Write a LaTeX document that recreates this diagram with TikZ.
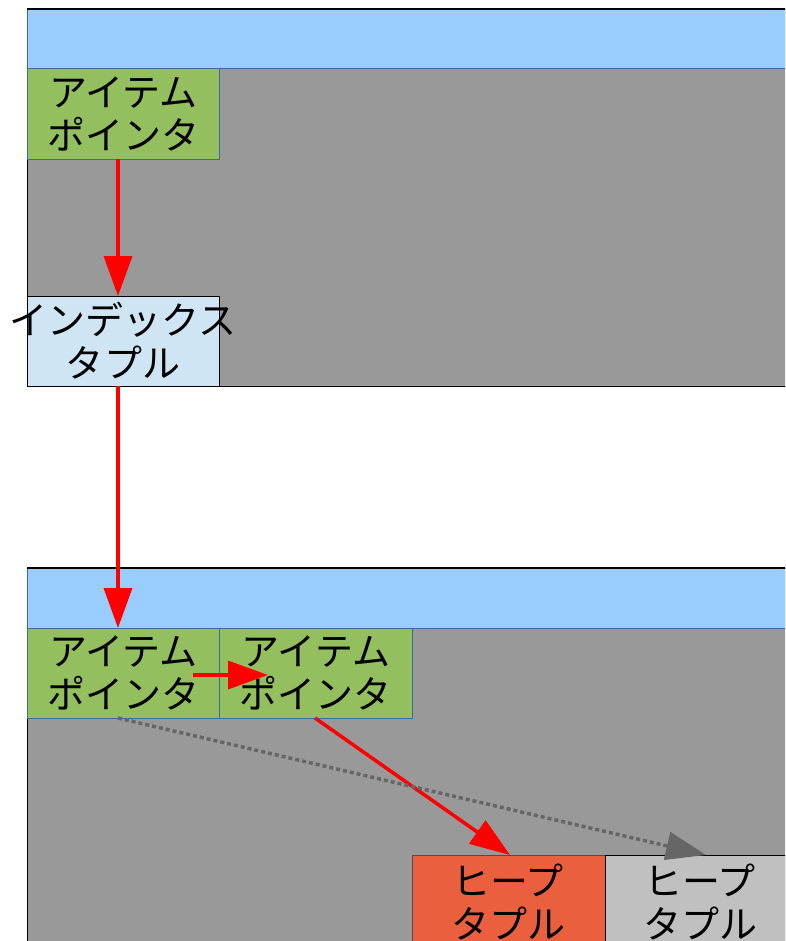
\documentclass[tikz,border=0pt]{standalone}
\usepackage{fontspec}
\setmainfont{Noto Sans CJK JP}
\usetikzlibrary{arrows.meta}
\definecolor{hdrblue}{HTML}{99CCFF}
\definecolor{pagegray}{HTML}{999999}
\definecolor{itemgreen}{HTML}{93BF5F}
\definecolor{itemedge}{HTML}{3A6AA0}
\definecolor{idxblue}{HTML}{CFE5F4}
\definecolor{heaporange}{HTML}{EA603E}
\definecolor{heapgray}{HTML}{C0C0C0}
\definecolor{dotgray}{HTML}{666666}
\tikzset{
  lbl/.style={font=\fontsize{38}{43}\selectfont, align=center, inner sep=0pt},
  redarrow/.style={draw=red, line width=3.5pt, -{Triangle[length=40pt,width=28pt]}},
  grayarrow/.style={draw=dotgray, line width=3.5pt, dash pattern=on 4pt off 3pt, -{Triangle[length=40pt,width=28pt]}},
}
\begin{document}
\begin{tikzpicture}[x=1pt,y=-1pt]
\useasboundingbox (0,0) rectangle (785,941);
\clip (0,0) rectangle (785,941);
% page 1
\node[draw=black, line width=1.2pt, fill=pagegray, minimum width=780pt, minimum height=377pt, anchor=north west, inner sep=0pt] (p1) at (27,9) {};
\node[draw=itemedge, line width=0.8pt, fill=hdrblue, minimum width=780pt, minimum height=59pt, anchor=north west, inner sep=0pt] (h1hdr) at (27,9) {};
\draw[black, line width=1.2pt] (27,9) -- (800,9);
\node[draw=itemedge, line width=0.8pt, fill=itemgreen, minimum width=192pt, minimum height=91pt, anchor=north west, inner sep=0pt] (g1) at (27,68) {};
\node[lbl] (g1t) at (g1.center) {アイテム\\ポインタ};
\node[draw=black, line width=0.8pt, fill=idxblue, minimum width=192pt, minimum height=90pt, anchor=north west, inner sep=0pt] (idx) at (27,296) {};
\node[lbl] (idxt) at (123,341) {インデックス\\タプル};
% page 2
\node[draw=black, line width=1.2pt, fill=pagegray, minimum width=780pt, minimum height=400pt, anchor=north west, inner sep=0pt] (p2) at (27,568) {};
\node[draw=itemedge, line width=0.8pt, fill=hdrblue, minimum width=780pt, minimum height=60pt, anchor=north west, inner sep=0pt] (h2hdr) at (27,568) {};
\draw[black, line width=1.2pt] (27,568) -- (800,568);
\node[draw=itemedge, line width=0.8pt, fill=itemgreen, minimum width=192pt, minimum height=90pt, anchor=north west, inner sep=0pt] (g2a) at (27,628) {};
\node[lbl] (g2at) at (g2a.center) {アイテム\\ポインタ};
\node[draw=itemedge, line width=0.8pt, fill=itemgreen, minimum width=193pt, minimum height=90pt, anchor=north west, inner sep=0pt] (g2b) at (219,628) {};
\node[lbl] (g2bt) at (g2b.center) {アイテム\\ポインタ};
\node[draw=black!70, line width=0.8pt, fill=heaporange, minimum width=193pt, minimum height=120pt, anchor=north west, inner sep=0pt] (hp1) at (412,855) {};
\node[lbl] (hp1t) at (508,902) {ヒープ\\タプル};
\node[draw=black, line width=0.8pt, fill=heapgray, minimum width=200pt, minimum height=120pt, anchor=north west, inner sep=0pt] (hp2) at (605,855) {};
\node[lbl] (hp2t) at (700,902) {ヒープ\\タプル};
% connectors
\coordinate (a1s) at (118,159);
\coordinate (a1e) at (118,296);
\draw[redarrow] (a1s) -- (a1e);
\coordinate (a2s) at (118,386);
\coordinate (a2e) at (118,628);
\draw[redarrow] (a2s) -- (a2e);
\coordinate (a3s) at (193,675);
\coordinate (a3e) at (268,675);
\draw[redarrow] (a3s) -- (a3e);
\coordinate (a4s) at (315,718);
\coordinate (a4e) at (510,855);
\draw[redarrow] (a4s) -- (a4e);
\coordinate (a5s) at (118,718);
\coordinate (a5e) at (706,855);
\draw[grayarrow] (a5s) -- (a5e);
\end{tikzpicture}
\end{document}
